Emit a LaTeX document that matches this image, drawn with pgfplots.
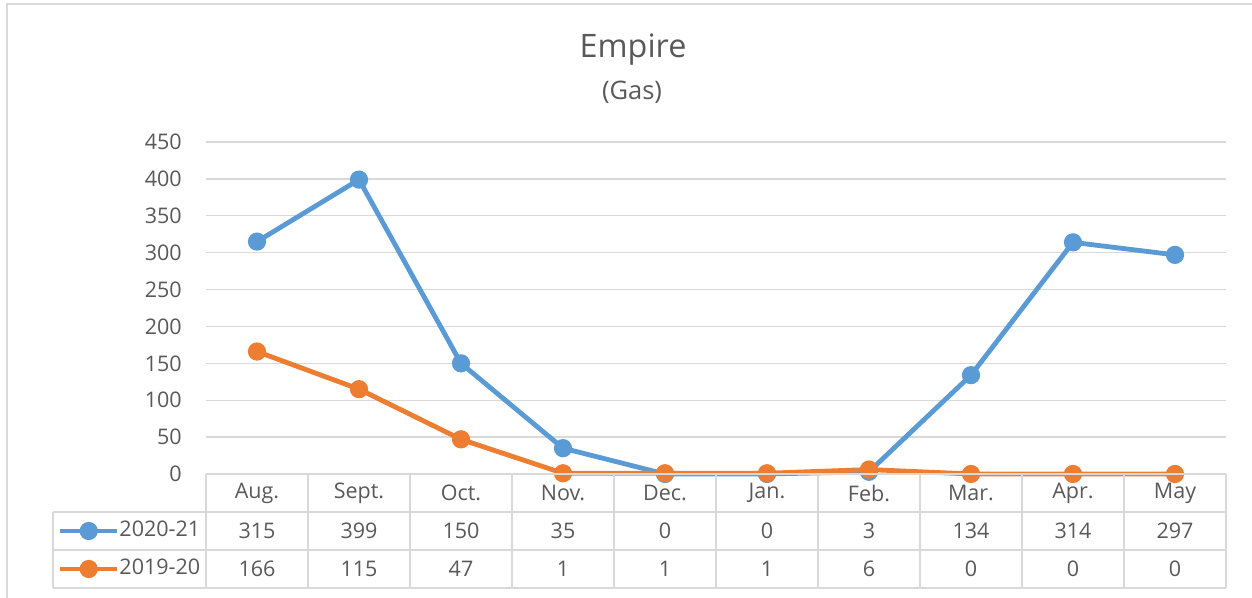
\documentclass[border=0pt]{standalone}
\usepackage{fontspec}
\setmainfont{Open Sans}
\usepackage{pgfplots}
\pgfplotsset{compat=1.18}
\definecolor{blu}{HTML}{5B9BD5}
\definecolor{ora}{HTML}{ED7D31}
\definecolor{gridc}{HTML}{D9D9D9}
\definecolor{txt}{HTML}{595959}
\newcommand{\tf}{\fontsize{12.9}{14}\selectfont}
\begin{document}
\begin{tikzpicture}
\begin{axis}[
  at={(0,0)}, anchor=south west,
  scale only axis, width=612pt, height=199.2pt,
  xmin=-0.5, xmax=9.5, ymin=0, ymax=450,
  ytick={0,50,...,450},
  xtick={0,...,9},
  xticklabels={Aug.,Sept.,Oct.,Nov.,Dec.,Jan.,Feb.,Mar.,Apr.,May},
  ymajorgrids, grid style={gridc, line width=0.8pt},
  axis line style={draw=none},
  major tick length=0pt,
  tick label style={font=\tf, text=txt},
  yticklabel style={anchor=east, inner sep=0pt, xshift=-14.4pt},
  xticklabel style={anchor=center, inner sep=0pt, yshift=-11.4pt},
  /pgf/number format/assume math mode=true,
  clip=false,
  legend image code/.code={\draw[mark repeat=2,mark phase=2,#1] plot coordinates {(0pt,0pt)(17pt,0pt)(34pt,0pt)};},
  legend cell align=left,
  legend style={at={(-0.1451,-0.1416)}, anchor=north west, draw=none, fill=none,
    inner sep=0pt, outer sep=0pt, row sep=10.8pt, column sep=0pt,
    nodes={inner sep=0pt, outer sep=0pt, text height=9pt, text depth=3pt, font=\tf, text=txt}},
]
\addplot[blu, line width=2.9pt, mark=*, mark size=4pt, mark options={solid}]
  coordinates {(0,315)(1,399)(2,150)(3,35)(4,0)(5,0)(6,3)(7,134)(8,314)(9,297)};
\addlegendentry{2020-21}
\addplot[ora, line width=2.9pt, mark=*, mark size=4pt, mark options={solid}]
  coordinates {(0,166)(1,115)(2,47)(3,1)(4,1)(5,1)(6,6)(7,0)(8,0)(9,0)};
\addlegendentry{2019-20}
\end{axis}
\begin{scope}[x=0.6pt,y=0.6pt]
  \useasboundingbox (-206,-124) rectangle (1046,474);
  % outer frame
  \draw[gridc, line width=1.2pt] (-199,-200) -- (-199,470) -- (1200,470);
  % table grid
  \draw[gridc, line width=1.2pt] (0,0) -- (1020,0);
  \foreach \yy in {-38,-76,-114} \draw[gridc, line width=1.2pt] (-153,\yy) -- (1020,\yy);
  \draw[gridc, line width=1.2pt] (-153,-38) -- (-153,-114);
  \foreach \k in {0,...,10} \draw[gridc, line width=1.2pt] ({102*\k},0) -- ({102*\k},-114);
  % table values
  \foreach \v [count=\i from 0] in {315,399,150,35,0,0,3,134,314,297}
    \node[font=\tf, text=txt] at ({51+102*\i},-57) {\v};
  \foreach \v [count=\i from 0] in {166,115,47,1,1,1,6,0,0,0}
    \node[font=\tf, text=txt] at ({51+102*\i},-95) {\v};
  % title
  \node[anchor=base, font=\fontsize{19.4}{22}\selectfont, text=txt] at (427,416) {Empire};
  \node[anchor=base, font=\fontsize{15.3}{17}\selectfont, text=txt] at (426,374) {(Gas)};
\end{scope}
\end{tikzpicture}
\end{document}
